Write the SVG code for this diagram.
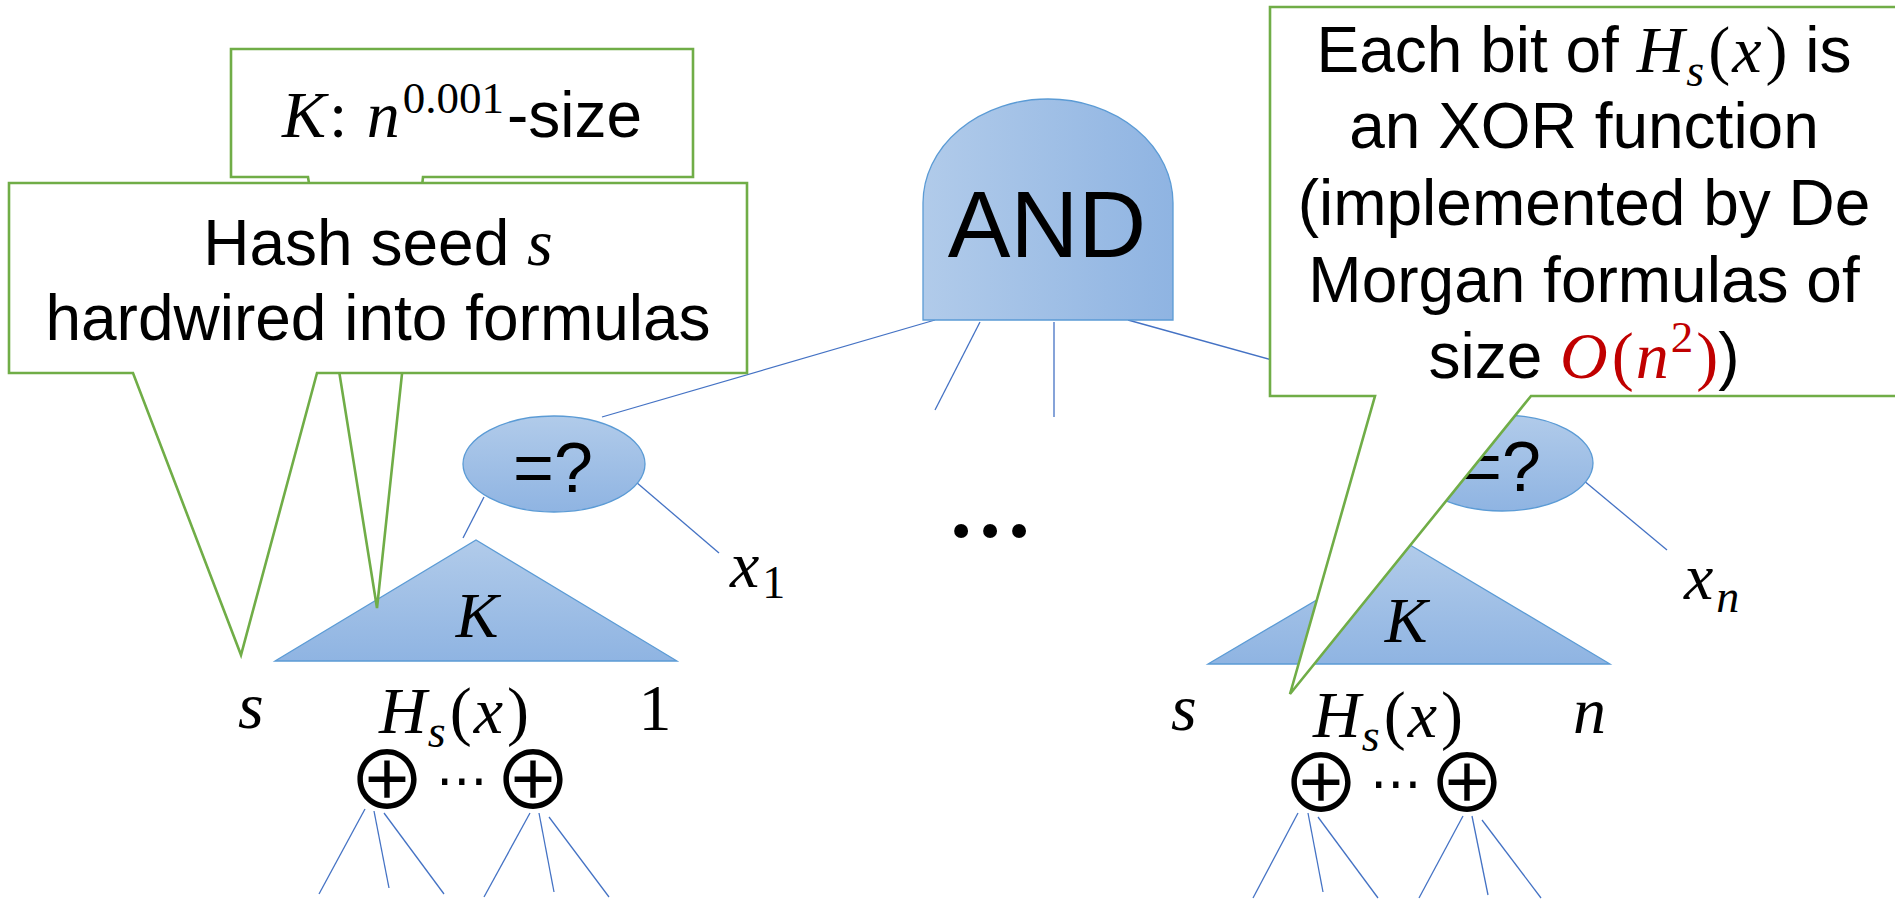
<svg xmlns="http://www.w3.org/2000/svg" width="1895" height="899" viewBox="0 0 1895 899">
<defs>
<linearGradient id="gh" x1="0" y1="0" x2="1" y2="0"><stop offset="0" stop-color="#B1CBEA"/><stop offset="1" stop-color="#8FB4E2"/></linearGradient>
<linearGradient id="gv" x1="0" y1="0" x2="0" y2="1"><stop offset="0" stop-color="#B1CBEA"/><stop offset="1" stop-color="#8FB4E2"/></linearGradient>
<style>
.shape{stroke:#5B9BD5;stroke-width:1.3}
.conn line{stroke:#4472C4;stroke-width:1.3}
.callout{fill:#FFFFFF;stroke:#70AD47;stroke-width:2.6}
.sans{font-family:"Liberation Sans",Arial,sans-serif;fill:#000}
.m{font-family:"Liberation Serif","Times New Roman",serif;fill:#000}
.i{font-style:italic}
.red{fill:#C00000}
.op{font-family:"Noto Sans CJK JP",sans-serif;fill:#000}
.dots{font-family:"DejaVu Sans",sans-serif;fill:#000}
</style>
</defs>
<rect width="1895" height="899" fill="#FFFFFF"/>
<g id="connectors" class="conn">
<line x1="935" y1="320" x2="602" y2="417"/>
<line x1="980" y1="322" x2="935" y2="410"/>
<line x1="1054" y1="322" x2="1054" y2="417"/>
<line x1="1128" y1="320" x2="1470" y2="415"/>
<line x1="484" y1="497" x2="463" y2="538"/>
<line x1="636" y1="482" x2="719" y2="553"/>
<line x1="1432" y1="497" x2="1411" y2="540"/>
<line x1="1583" y1="480" x2="1667" y2="550"/>
<line x1="365" y1="809" x2="319" y2="894"/>
<line x1="374" y1="811" x2="389" y2="888"/>
<line x1="384" y1="813" x2="444" y2="894"/>
<line x1="530" y1="813" x2="484" y2="897"/>
<line x1="539" y1="813" x2="554" y2="892"/>
<line x1="549" y1="817" x2="609" y2="897"/>
<line x1="1298" y1="813" x2="1253" y2="898"/>
<line x1="1308" y1="813" x2="1323" y2="892"/>
<line x1="1318" y1="817" x2="1378" y2="898"/>
<line x1="1463" y1="816" x2="1419" y2="898"/>
<line x1="1472" y1="816" x2="1488" y2="895"/>
<line x1="1482" y1="820" x2="1541" y2="898"/>
</g>
<g id="and-gate">
<path class="shape" fill="url(#gh)" d="M923,320 V203 A125,104 0 0 1 1173,203 V320 Z"/>
<text class="sans" x="1047" y="257" font-size="94" text-anchor="middle">AND</text>
</g>
<g id="eq-left">
<ellipse class="shape" fill="url(#gv)" cx="554" cy="464" rx="91" ry="48"/>
<text class="sans" x="553" y="492" font-size="70" text-anchor="middle">=?</text>
</g>
<g id="x1">
<text class="m" x="730" y="587" font-size="66"><tspan class="i">x</tspan><tspan font-size="46" dx="3" dy="11">1</tspan></text>
</g>
<g id="tri-left">
<polygon class="shape" fill="url(#gv)" points="275,661 476,540 677,661"/>
<text class="m i" x="477" y="637" font-size="64" text-anchor="middle">K</text>
</g>
<g id="labels-left">
<text class="m i" x="238" y="728" font-size="66">s</text>
<text class="m" x="454" y="733" font-size="66" text-anchor="middle"><tspan class="i">H</tspan><tspan class="i" font-size="46" dx="1" dy="14">s</tspan><tspan dx="4" dy="-14">(</tspan><tspan class="i" dx="2">x</tspan><tspan dx="4">)</tspan></text>
<text class="m" x="655" y="730" font-size="66" text-anchor="middle">1</text>
</g>
<g id="xor-left">
<text class="op" x="387" y="809" font-size="80" text-anchor="middle">⊕</text>
<text class="dots" x="462" y="798" font-size="52" text-anchor="middle">⋯</text>
<text class="op" x="533" y="809" font-size="80" text-anchor="middle">⊕</text>
</g>
<g id="dots-mid">
<text class="m" x="990" y="537" font-size="86" font-weight="bold" text-anchor="middle">…</text>
</g>
<g id="eq-right">
<ellipse class="shape" fill="url(#gv)" cx="1502" cy="463" rx="91" ry="48"/>
<text class="sans" x="1501" y="491" font-size="70" text-anchor="middle">=?</text>
</g>
<g id="xn">
<text class="m" x="1684" y="599" font-size="66"><tspan class="i">x</tspan><tspan class="i" font-size="46" dx="3" dy="13">n</tspan></text>
</g>
<g id="tri-right">
<polygon class="shape" fill="url(#gv)" points="1208,664 1410,545 1610,664"/>
<text class="m i" x="1406" y="642" font-size="64" text-anchor="middle">K</text>
</g>
<g id="labels-right">
<text class="m i" x="1171" y="730" font-size="66">s</text>
<text class="m" x="1388" y="737" font-size="66" text-anchor="middle"><tspan class="i">H</tspan><tspan class="i" font-size="46" dx="1" dy="14">s</tspan><tspan dx="4" dy="-14">(</tspan><tspan class="i" dx="2">x</tspan><tspan dx="4">)</tspan></text>
<text class="m i" x="1573" y="733" font-size="66">n</text>
</g>
<g id="xor-right">
<text class="op" x="1321" y="812" font-size="80" text-anchor="middle">⊕</text>
<text class="dots" x="1396" y="801" font-size="52" text-anchor="middle">⋯</text>
<text class="op" x="1467" y="812" font-size="80" text-anchor="middle">⊕</text>
</g>
<g id="callout-k">
<path class="callout" d="M231,49 H693 V177 H423 L377,608 L308,177 H231 Z"/>
<text class="m" x="462" y="137" font-size="66" text-anchor="middle"><tspan class="i">K</tspan><tspan dx="3">: </tspan><tspan class="i" dx="3">n</tspan><tspan font-size="45" dx="3" dy="-24">0.001</tspan><tspan class="sans" font-size="64" dx="3" dy="24">-size</tspan></text>
</g>
<g id="callout-hash">
<path class="callout" d="M9,183 H747 V373 H317 L241,655 L133,373 H9 Z"/>
<text class="sans" x="378" y="265" font-size="64" text-anchor="middle">Hash seed <tspan class="m i" font-size="66">s</tspan></text>
<text class="sans" x="378" y="340" font-size="64" text-anchor="middle">hardwired into formulas</text>
</g>
<g id="callout-xor">
<path class="callout" d="M1270,7 H1900 V396 H1531 L1290,694 L1375,396 H1270 Z"/>
<text class="sans" x="1584" y="72" font-size="64" text-anchor="middle">Each bit of <tspan class="m i" font-size="66">H</tspan><tspan class="m i" font-size="46" dx="2" dy="14">s</tspan><tspan class="m" font-size="66" dx="4" dy="-14">(</tspan><tspan class="m i" font-size="66" dx="2">x</tspan><tspan class="m" font-size="66" dx="4">)</tspan> is</text>
<text class="sans" x="1584" y="148" font-size="64" text-anchor="middle">an XOR function</text>
<text class="sans" x="1584" y="225" font-size="64" text-anchor="middle">(implemented by De</text>
<text class="sans" x="1584" y="302" font-size="64" text-anchor="middle">Morgan formulas of</text>
<text class="sans" x="1584" y="378" font-size="64" text-anchor="middle">size <tspan class="m i red" font-size="66">O</tspan><tspan class="m red" font-size="66" dx="4">(</tspan><tspan class="m i red" font-size="66" dx="2">n</tspan><tspan class="m red" font-size="45" dx="2" dy="-26">2</tspan><tspan class="m red" font-size="66" dx="3" dy="26">)</tspan>)</text>
</g>
</svg>
